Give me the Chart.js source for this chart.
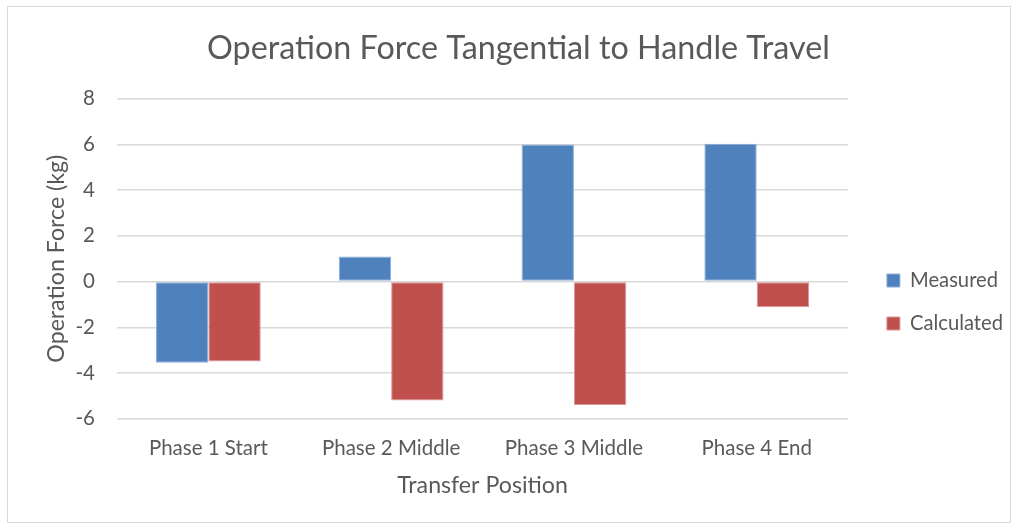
<!DOCTYPE html>
<html>
<head>
<meta charset="utf-8">
<script src="https://cdn.jsdelivr.net/npm/chart.js@4.4.1/dist/chart.umd.min.js"></script>
<style>
html,body{margin:0;padding:0;background:#fff;}
#wrap{position:relative;width:1014px;height:527px;}
</style>
</head>
<body>
<div id="wrap"><canvas id="c" width="1014" height="527"></canvas></div>
<script>
const categories = ["Phase 1 Start", "Phase 2 Middle", "Phase 3 Middle", "Phase 4 End"];
const measured = [-3.55, 1.1, 6.0, 6.03];
const calculated = [-3.5, -5.2, -5.4, -1.12];
const yTicks = [-6, -4, -2, 0, 2, 4, 6, 8];
const chartTitle = 'Operation Force Tangential to Handle Travel';
const xTitle = 'Transfer Position';
const yTitle = 'Operation Force (kg)';

const FONT = "Lato, 'Open Sans', sans-serif";
const TXT = "#595959";

// pick a font size so a sample string spans the width seen in the reference
const mctx = document.createElement('canvas').getContext('2d');
function fit(text, w) {
  mctx.font = "100px " + FONT;
  return Math.round(100 * w / mctx.measureText(text).width * 10) / 10;
}
const titleSize = fit(chartTitle, 623);
const tickSize = fit('Phase 1 Start', 119);
const legendSize = fit('Calculated', 93);
const axisTitleSize = fit(xTitle, 171);

const borderPlugin = {
  id: 'outerBorder',
  beforeDraw(chart) {
    const ctx = chart.ctx;
    ctx.save();
    ctx.fillStyle = '#fff';
    ctx.fillRect(0, 0, chart.width, chart.height);
    ctx.strokeStyle = '#D9D9D9';
    ctx.lineWidth = 1;
    ctx.strokeRect(7.5, 6.5, 1003, 516);
    ctx.restore();
  }
};
// Excel places the legend a little right of the plot and centred below the title
const legendShift = {
  id: 'legendShift',
  afterLayout(chart) {
    const lg = chart.legend;
    lg.left += 16; lg.right += 16;
    lg.top += 58;
  }
};

new Chart(document.getElementById('c'), {
  type: 'bar',
  data: {
    labels: categories,
    datasets: [
      { label: 'Measured', data: measured, backgroundColor: '#4F81BD', borderColor: '#8EAEDB', borderWidth: 1, borderSkipped: false },
      { label: 'Calculated', data: calculated, backgroundColor: '#C0504D', borderColor: '#DA9795', borderWidth: 1, borderSkipped: false }
    ]
  },
  options: {
    responsive: false,
    animation: false,
    devicePixelRatio: 1,
    layout: { padding: { left: 40, right: 17, top: 29, bottom: 10 } },
    datasets: { bar: { categoryPercentage: 0.573, barPercentage: 1.0 } },
    plugins: {
      title: {
        display: true,
        text: chartTitle,
        color: TXT,
        font: { family: FONT, size: titleSize, weight: 'normal' },
        padding: { top: 0, bottom: 31 }
      },
      legend: {
        position: 'right',
        labels: {
          color: TXT,
          font: { family: FONT, size: legendSize },
          boxWidth: 13,
          boxHeight: 13,
          padding: 43 - legendSize
        }
      },
      tooltip: { enabled: false }
    },
    scales: {
      x: {
        grid: { display: false, drawTicks: false },
        border: { display: false },
        ticks: { color: TXT, font: { family: FONT, size: tickSize, lineHeight: 1.0 }, padding: 19 },
        title: { display: true, text: xTitle, color: TXT, font: { family: FONT, size: axisTitleSize }, padding: { top: -6, bottom: 18 } }
      },
      y: {
        min: -6, max: 8,
        afterBuildTicks(scale) { scale.ticks = yTicks.map(v => ({ value: v })); },
        afterFit(scale) { scale.width = 77; },
        grid: { color: '#D9D9D9', lineWidth: 1.5, drawTicks: false },
        border: { display: false },
        ticks: { color: TXT, font: { family: FONT, size: tickSize }, padding: 22 },
        title: { display: true, text: yTitle, color: TXT, font: { family: FONT, size: axisTitleSize }, padding: { top: 3, bottom: 3 } }
      }
    }
  },
  plugins: [borderPlugin, legendShift]
});
</script>
</body>
</html>
